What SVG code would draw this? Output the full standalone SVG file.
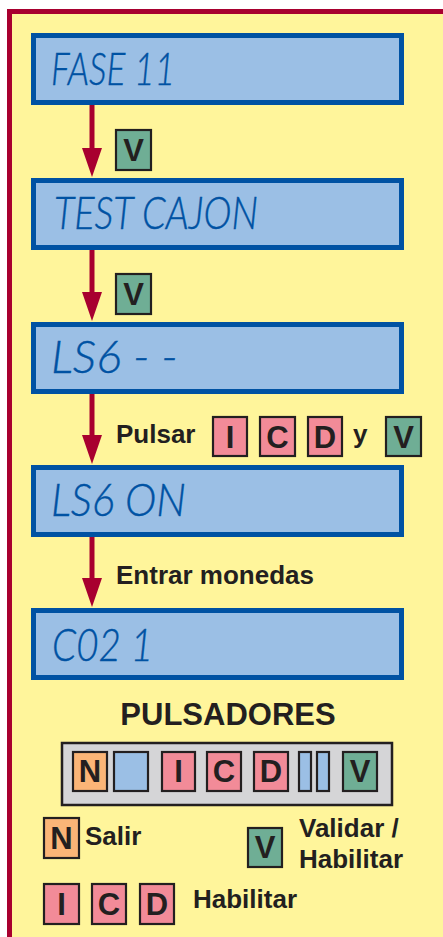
<svg xmlns="http://www.w3.org/2000/svg" width="443" height="937" viewBox="0 0 443 937">
<style>
.lcd{fill:#9bbfe5;stroke:#0052a3;stroke-width:5}
.lt{font-family:"Lato","Liberation Sans",Arial,sans-serif;font-style:italic;font-weight:300;font-size:45px;fill:#0052a3;stroke:#0052a3;stroke-width:0.4}
.btn{stroke:#231f20;stroke-width:2.2}
.g{fill:#6fae95}.p{fill:#f28b98}.o{fill:#fbb577}.b{fill:#9bbfe5}
.bl{font-family:"Liberation Sans",Arial,sans-serif;font-weight:bold;font-size:31px;fill:#231f20;text-anchor:middle}
.tx{font-family:"Liberation Sans",Arial,sans-serif;font-weight:bold;font-size:26px;fill:#231f20}
.ar{stroke:#a8002f;stroke-width:5;fill:none}
.ah{fill:#a8002f}
</style>
<rect width="443" height="937" fill="#ffffff"/>
<rect x="9.5" y="11.5" width="460" height="960" fill="#fff59b" stroke="#a8002f" stroke-width="5"/>

<g id="connectors">
<line class="ar" x1="92" y1="105" x2="92" y2="152"/><polygon class="ah" points="82,148 102,148 92,177"/>
<line class="ar" x1="92" y1="249" x2="92" y2="296"/><polygon class="ah" points="82,292 102,292 92,321"/>
<line class="ar" x1="92" y1="393" x2="92" y2="439"/><polygon class="ah" points="82,435 102,435 92,464"/>
<line class="ar" x1="92" y1="537" x2="92" y2="582"/><polygon class="ah" points="82,578 102,578 92,607"/>
</g>

<g id="lcd1"><rect class="lcd" x="33.5" y="35.5" width="368" height="67"/><text class="lt" x="51" y="85" textLength="124" lengthAdjust="spacingAndGlyphs">FASE 11</text></g>
<g id="lcd2"><rect class="lcd" x="33.5" y="180.5" width="368" height="67"/><text class="lt" x="54" y="229" textLength="204" lengthAdjust="spacingAndGlyphs">TEST CAJON</text></g>
<g id="lcd3"><rect class="lcd" x="33.5" y="324.5" width="368" height="67"/><text class="lt" x="51" y="373" textLength="127" lengthAdjust="spacingAndGlyphs">LS6 - -</text></g>
<g id="lcd4"><rect class="lcd" x="33.5" y="467.5" width="368" height="67"/><text class="lt" x="51" y="516" textLength="135" lengthAdjust="spacingAndGlyphs">LS6 ON</text></g>
<g id="lcd5"><rect class="lcd" x="33.5" y="610.5" width="368" height="67"/><text class="lt" x="52" y="661" textLength="101" lengthAdjust="spacingAndGlyphs">C02 1</text></g>

<g id="step1"><rect class="btn g" x="116" y="130" width="35" height="40"/><text class="bl" x="133.5" y="161">V</text></g>
<g id="step2"><rect class="btn g" x="116" y="274" width="35" height="40"/><text class="bl" x="133.5" y="305">V</text></g>
<g id="step3">
<text class="tx" x="116" y="443">Pulsar</text>
<rect class="btn p" x="213" y="417" width="34" height="39"/><text class="bl" x="230" y="448">I</text>
<rect class="btn p" x="260" y="417" width="35" height="39"/><text class="bl" x="277.5" y="448">C</text>
<rect class="btn p" x="308" y="417" width="34" height="39"/><text class="bl" x="325" y="448">D</text>
<text class="tx" x="353" y="443">y</text>
<rect class="btn g" x="386" y="417" width="35" height="39"/><text class="bl" x="403.5" y="448">V</text>
</g>
<g id="step4"><text class="tx" x="116" y="584">Entrar monedas</text></g>

<g id="pulsadores">
<text class="tx" x="228" y="725" text-anchor="middle" style="font-size:31px">PULSADORES</text>
<rect x="62" y="743" width="330" height="62" fill="#d5d5d7" stroke="#231f20" stroke-width="2.5"/>
<rect class="btn o" x="73" y="752" width="34" height="39"/><text class="bl" x="90" y="782">N</text>
<rect class="btn b" x="114" y="752" width="34" height="39"/>
<rect class="btn p" x="162" y="752" width="33" height="39"/><text class="bl" x="178.5" y="782">I</text>
<rect class="btn p" x="207" y="752" width="34" height="39"/><text class="bl" x="224" y="782">C</text>
<rect class="btn p" x="254" y="752" width="34" height="39"/><text class="bl" x="271" y="782">D</text>
<rect class="btn b" x="299" y="752" width="12" height="39"/>
<rect class="btn b" x="317" y="752" width="12" height="39"/>
<rect class="btn g" x="343" y="752" width="34" height="39"/><text class="bl" x="360" y="782">V</text>
</g>

<g id="legend">
<rect class="btn o" x="44" y="818" width="35" height="40"/><text class="bl" x="61.5" y="849">N</text>
<text class="tx" x="85" y="845">Salir</text>
<rect class="btn g" x="248" y="828" width="34" height="39"/><text class="bl" x="265" y="858">V</text>
<text class="tx" x="299" y="837">Validar /</text>
<text class="tx" x="299" y="868">Habilitar</text>
<rect class="btn p" x="44" y="884" width="35" height="40"/><text class="bl" x="61.5" y="915">I</text>
<rect class="btn p" x="92" y="884" width="34" height="40"/><text class="bl" x="109" y="915">C</text>
<rect class="btn p" x="140" y="884" width="34" height="40"/><text class="bl" x="157" y="915">D</text>
<text class="tx" x="193" y="908">Habilitar</text>
</g>
</svg>
